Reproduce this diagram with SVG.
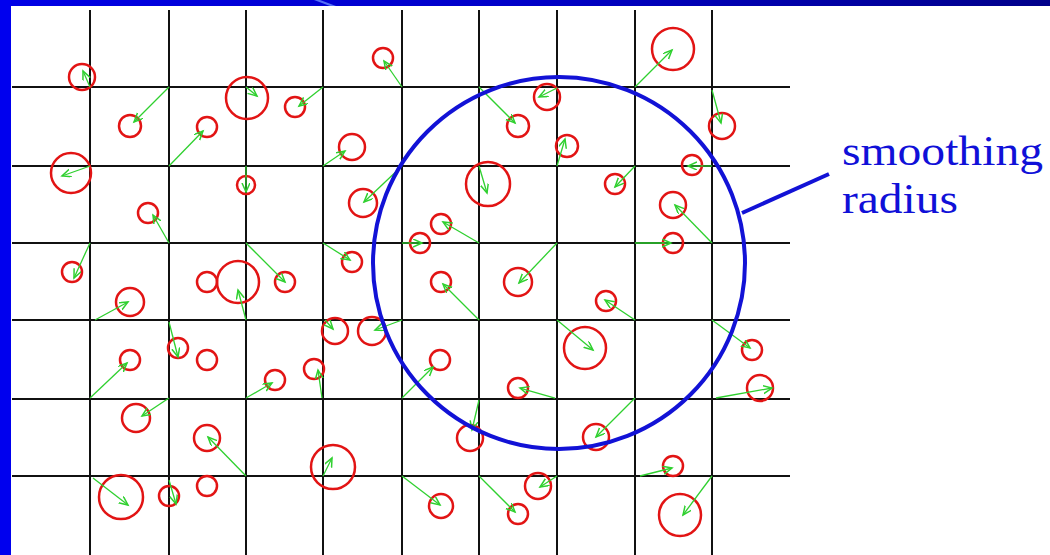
<svg xmlns="http://www.w3.org/2000/svg" width="1050" height="555" viewBox="0 0 1050 555">
<defs>
<linearGradient id="band" x1="0" y1="0" x2="1" y2="0">
<stop offset="0" stop-color="#0000e6"/>
<stop offset="0.5" stop-color="#0000c8"/>
<stop offset="1" stop-color="#00008a"/>
</linearGradient>
<marker id="ah" markerUnits="userSpaceOnUse" markerWidth="12" markerHeight="10" refX="9" refY="4" orient="auto">
<path d="M0,0 L9,4 L0,8" fill="none" stroke="#2fd02f" stroke-width="1.5"/>
</marker>
<style>
.g{stroke:#111;stroke-width:2;fill:none}
.p{fill:none;stroke:#e21414;stroke-width:2.5}
.a{stroke:#2fd02f;stroke-width:1.3;fill:none;marker-end:url(#ah)}
.lbl{font-family:"Liberation Serif","Times New Roman",serif;font-size:42px;fill:#1010d8}
</style>
</defs>
<rect width="1050" height="555" fill="#ffffff"/>
<rect x="0" y="0" width="1050" height="6" fill="url(#band)"/>
<path d="M314,0 L320,0 L336,6 L330,6 Z" fill="#6a8cff" opacity="0.8"/>
<rect x="0" y="0" width="11" height="555" fill="#0000ee"/>
<g id="grid" class="g">
<path d="M90,10V555M169,10V555M246,10V555M323,10V555M402,10V555M479,10V555M557,10V555M635,10V555M712,10V555"/>
<path d="M12,87H790M12,166H790M12,243H790M12,320H790M12,399H790M12,476H790"/>
</g>
<g id="particles" class="p">
<circle id="p1" cx="82" cy="77" r="13"/>
<circle id="p2" cx="130" cy="126" r="11"/>
<circle id="p3" cx="207" cy="127" r="10"/>
<circle id="p4" cx="247" cy="98" r="21"/>
<circle id="p5" cx="295" cy="107" r="10"/>
<circle id="p6" cx="71" cy="173" r="20"/>
<circle id="p7" cx="352" cy="147" r="13"/>
<circle id="p8" cx="246" cy="185" r="9"/>
<circle id="p9" cx="383" cy="58" r="10"/>
<circle id="p10" cx="673" cy="49" r="21"/>
<circle id="p11" cx="547" cy="97" r="13"/>
<circle id="p12" cx="518" cy="126" r="11"/>
<circle id="p13" cx="567" cy="146" r="11"/>
<circle id="p14" cx="692" cy="165" r="10"/>
<circle id="p15" cx="488" cy="184" r="22"/>
<circle id="p16" cx="615" cy="184" r="10"/>
<circle id="p17" cx="722" cy="126" r="13"/>
<circle id="p18" cx="148" cy="213" r="10"/>
<circle id="p19" cx="72" cy="272" r="10"/>
<circle id="p20" cx="130" cy="302" r="14"/>
<circle id="p21" cx="207" cy="282" r="10"/>
<circle id="p22" cx="238" cy="282" r="21"/>
<circle id="p23" cx="285" cy="282" r="10"/>
<circle id="p24" cx="352" cy="262" r="10"/>
<circle id="p25" cx="335" cy="331" r="13"/>
<circle id="p26" cx="372" cy="331" r="14"/>
<circle id="p27" cx="130" cy="360" r="10"/>
<circle id="p28" cx="178" cy="348" r="10"/>
<circle id="p29" cx="207" cy="360" r="10"/>
<circle id="p30" cx="314" cy="369" r="10"/>
<circle id="p31" cx="275" cy="380" r="10"/>
<circle id="p32" cx="136" cy="418" r="14"/>
<circle id="p33" cx="207" cy="438" r="13"/>
<circle id="p34" cx="333" cy="467" r="22"/>
<circle id="p35" cx="121" cy="497" r="22"/>
<circle id="p36" cx="169" cy="496" r="10"/>
<circle id="p37" cx="207" cy="486" r="10"/>
<circle id="p38" cx="363" cy="203" r="14"/>
<circle id="p39" cx="441" cy="224" r="10"/>
<circle id="p40" cx="420" cy="243" r="10"/>
<circle id="p41" cx="441" cy="282" r="10"/>
<circle id="p42" cx="518" cy="282" r="14"/>
<circle id="p43" cx="606" cy="301" r="10"/>
<circle id="p44" cx="673" cy="205" r="13"/>
<circle id="p45" cx="673" cy="243" r="10"/>
<circle id="p47" cx="585" cy="348" r="21"/>
<circle id="p48" cx="440" cy="360" r="10"/>
<circle id="p49" cx="752" cy="350" r="10"/>
<circle id="p50" cx="518" cy="388" r="10"/>
<circle id="p51" cx="470" cy="438" r="13"/>
<circle id="p52" cx="596" cy="437" r="13"/>
<circle id="p53" cx="673" cy="466" r="10"/>
<circle id="p54" cx="680" cy="515" r="21"/>
<circle id="p55" cx="441" cy="506" r="12"/>
<circle id="p56" cx="518" cy="514" r="10"/>
<circle id="p57" cx="538" cy="486" r="13"/>
<circle id="p58" cx="760" cy="388" r="13"/>
</g>
<g id="connectors" class="a">
<line x1="90" y1="87" x2="83" y2="71"/>
<line x1="169" y1="87" x2="134" y2="122"/>
<line x1="169" y1="166" x2="203" y2="131"/>
<line x1="246" y1="87" x2="257" y2="96"/>
<line x1="323" y1="87" x2="299" y2="106"/>
<line x1="90" y1="166" x2="62" y2="176"/>
<line x1="323" y1="166" x2="345" y2="151"/>
<line x1="246" y1="166" x2="246" y2="192"/>
<line x1="402" y1="87" x2="384" y2="61"/>
<line x1="635" y1="87" x2="672" y2="50"/>
<line x1="557" y1="88" x2="539" y2="97"/>
<line x1="479" y1="87" x2="515" y2="123"/>
<line x1="557" y1="166" x2="565" y2="139"/>
<line x1="712" y1="166" x2="688" y2="166"/>
<line x1="479" y1="166" x2="487" y2="193"/>
<line x1="635" y1="166" x2="615" y2="187"/>
<line x1="712" y1="90" x2="721" y2="123"/>
<line x1="169" y1="243" x2="153" y2="215"/>
<line x1="90" y1="243" x2="74" y2="278"/>
<line x1="95" y1="320" x2="128" y2="302"/>
<line x1="246" y1="320" x2="238" y2="290"/>
<line x1="246" y1="243" x2="285" y2="282"/>
<line x1="323" y1="243" x2="350" y2="260"/>
<line x1="325" y1="320" x2="333" y2="329"/>
<line x1="402" y1="320" x2="375" y2="330"/>
<line x1="90" y1="398" x2="127" y2="363"/>
<line x1="169" y1="322" x2="178" y2="357"/>
<line x1="322" y1="398" x2="318" y2="370"/>
<line x1="246" y1="398" x2="272" y2="383"/>
<line x1="169" y1="398" x2="142" y2="416"/>
<line x1="246" y1="476" x2="208" y2="437"/>
<line x1="323" y1="476" x2="332" y2="458"/>
<line x1="93" y1="478" x2="128" y2="505"/>
<line x1="169" y1="480" x2="176" y2="504"/>
<line x1="402" y1="166" x2="364" y2="202"/>
<line x1="479" y1="243" x2="443" y2="222"/>
<line x1="402" y1="243" x2="422" y2="243"/>
<line x1="479" y1="320" x2="443" y2="284"/>
<line x1="557" y1="243" x2="519" y2="283"/>
<line x1="635" y1="320" x2="605" y2="300"/>
<line x1="712" y1="243" x2="675" y2="205"/>
<line x1="635" y1="243" x2="671" y2="243"/>
<line x1="557" y1="320" x2="593" y2="350"/>
<line x1="402" y1="398" x2="433" y2="367"/>
<line x1="712" y1="320" x2="750" y2="348"/>
<line x1="555" y1="398" x2="520" y2="388"/>
<line x1="479" y1="400" x2="472" y2="430"/>
<line x1="635" y1="398" x2="596" y2="437"/>
<line x1="640" y1="476" x2="672" y2="468"/>
<line x1="712" y1="476" x2="683" y2="515"/>
<line x1="402" y1="476" x2="440" y2="505"/>
<line x1="479" y1="476" x2="515" y2="512"/>
<line x1="557" y1="476" x2="540" y2="487"/>
<line x1="716" y1="398" x2="772" y2="388"/>
</g>
<g id="smoothing-radius">
<circle cx="559" cy="263" r="186" fill="none" stroke="#1212d6" stroke-width="4"/>
<line x1="742" y1="213" x2="829" y2="174" stroke="#1212d6" stroke-width="4"/>
<text class="lbl" x="842" y="165" textLength="201" lengthAdjust="spacingAndGlyphs">smoothing</text>
<text class="lbl" x="842" y="213" textLength="116" lengthAdjust="spacingAndGlyphs">radius</text>
</g>
</svg>
